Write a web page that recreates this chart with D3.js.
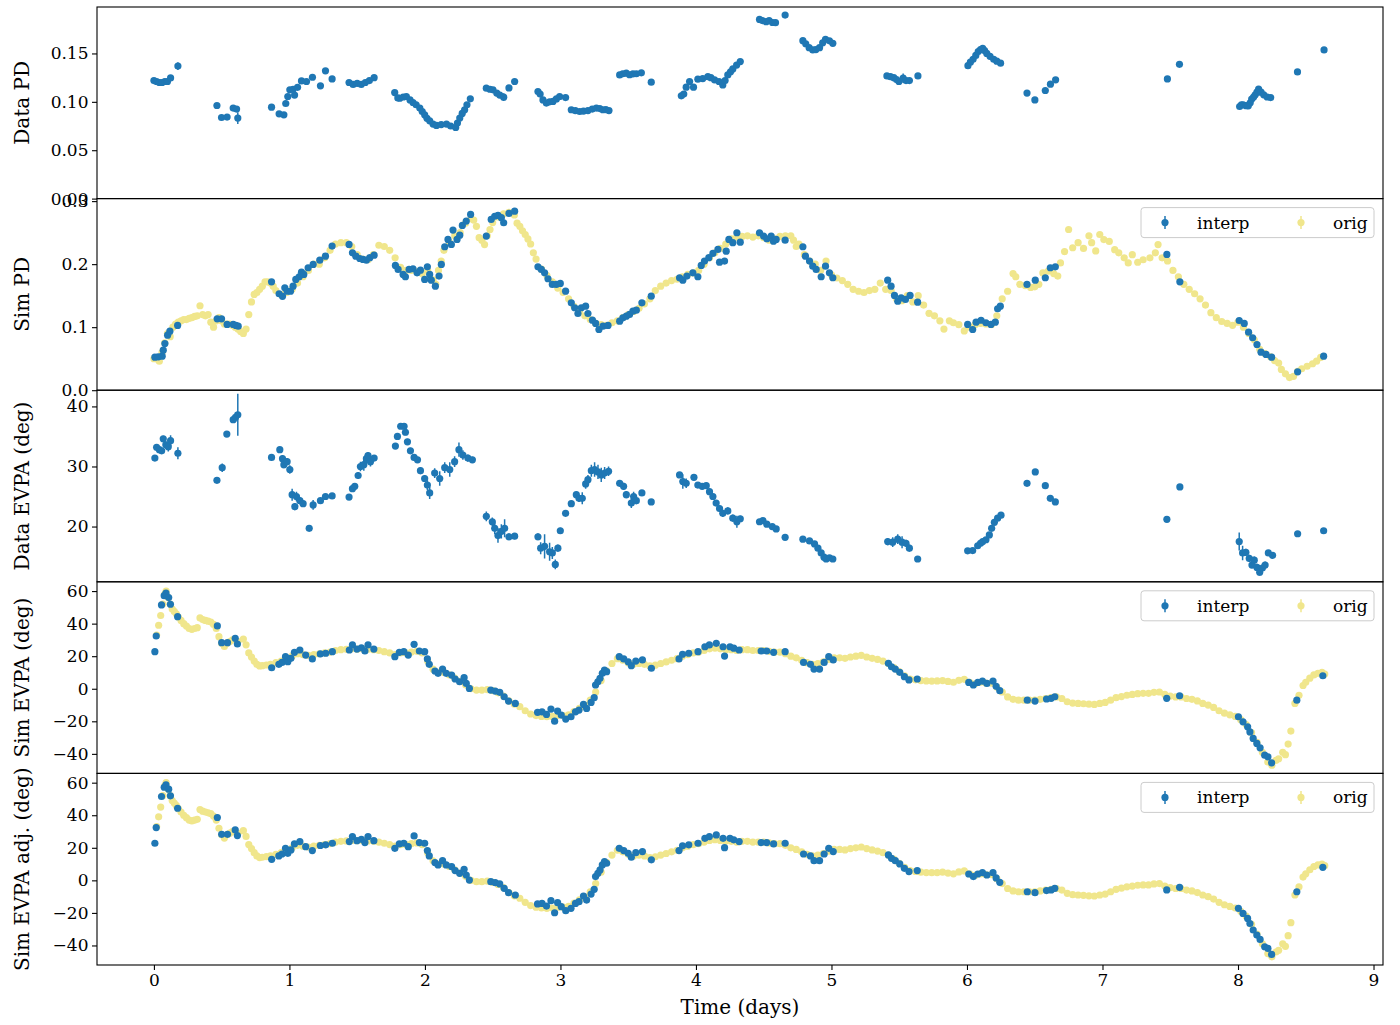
<!DOCTYPE html>
<html><head><meta charset="utf-8">
<script src="https://cdn.jsdelivr.net/npm/d3@7"></script>
<style>body{margin:0;background:#fff} svg{display:block}</style>
</head><body><svg id="chart" width="1400" height="1025"></svg>
<script>
// ---------------- DATA (time in days, value, optional error) ----------------
const dataPD = [
[0.0,0.122],[0.02,0.121],[0.04,0.120],[0.06,0.120],[0.08,0.121],[0.10,0.121],[0.123,0.1247],[0.177,0.137,0.004],
[0.465,0.0962],[0.499,0.0838],[0.54,0.0842],[0.585,0.0935],[0.61,0.0925],[0.619,0.0832,0.006],
[0.868,0.0945],[0.924,0.0876],[0.959,0.0866],[0.973,0.0983],[0.988,0.1055],[1.003,0.1124],[1.027,0.113],[1.038,0.107],[1.06,0.115],[1.089,0.1216],[1.126,0.121],[1.17,0.1254],[1.229,0.1165],[1.266,0.132],[1.315,0.1237],
[1.44,0.120],[1.47,0.118],[1.50,0.119],[1.53,0.118,0.002],[1.56,0.120],[1.59,0.122],[1.625,0.125],
[1.777,0.1096],[1.80,0.104],[1.814,0.1037],[1.84,0.105],[1.863,0.1055],[1.89,0.102],[1.912,0.0993],[1.935,0.097],[1.962,0.0935],[1.98,0.09],[1.998,0.0866],[2.015,0.083],[2.035,0.0804],[2.06,0.077],[2.085,0.0756],[2.12,0.0765],[2.159,0.077],[2.19,0.075],[2.227,0.0735],[2.24,0.078],[2.257,0.0832],[2.275,0.088],[2.293,0.0918],[2.31,0.097],[2.335,0.1031],
[2.453,0.1141],[2.48,0.113],[2.502,0.1124],[2.53,0.109],[2.552,0.107],[2.581,0.1048,0.004],[2.62,0.1144],[2.662,0.121],
[2.834,0.1106],[2.85,0.108],[2.871,0.102],[2.896,0.0987],[2.92,0.100],[2.945,0.1004],[2.97,0.103],[2.994,0.1055],[3.038,0.1044],
[3.08,0.0918],[3.11,0.091],[3.142,0.090],[3.17,0.0905],[3.203,0.091],[3.235,0.0925],[3.265,0.0935],[3.29,0.093],[3.313,0.0918],[3.335,0.092],[3.358,0.091],
[3.437,0.1278],[3.46,0.129],[3.486,0.1296],[3.51,0.128],[3.535,0.1289],[3.56,0.129],[3.597,0.130],[3.67,0.1203],
[3.892,0.1062],[3.91,0.108],[3.928,0.1151],[3.953,0.121],[3.982,0.1151],[4.014,0.1234],[4.05,0.124],[4.088,0.126],[4.11,0.125],[4.137,0.1227],[4.17,0.121],[4.198,0.1175],[4.215,0.122],[4.235,0.1278],[4.255,0.131],[4.272,0.134],[4.30,0.138],[4.327,0.1416],
[4.469,0.1852],[4.49,0.184],[4.518,0.1828],[4.54,0.184],[4.565,0.182],[4.587,0.1818],[4.658,0.1897],
[4.789,0.1632],[4.81,0.160],[4.835,0.156],[4.862,0.1536],[4.885,0.154],[4.912,0.156],[4.935,0.161],[4.956,0.1646],[4.985,0.163],[5.01,0.1605],
[5.409,0.1268],[5.435,0.126],[5.46,0.125],[5.48,0.123],[5.498,0.121],[5.529,0.1244,0.005],[5.55,0.122],[5.575,0.122],[5.638,0.1268],
[6.007,0.1374],[6.025,0.141],[6.045,0.144],[6.065,0.148],[6.083,0.1519],[6.1,0.154],[6.116,0.1553],[6.13,0.153],[6.146,0.150],[6.17,0.147],[6.197,0.144],[6.22,0.142],[6.248,0.140],
[6.443,0.109],[6.501,0.102],[6.578,0.1117],[6.616,0.1182],[6.654,0.1227],
[7.479,0.1237],[7.568,0.1388],
[8.012,0.0952,0.003],[8.025,0.097],[8.038,0.0969],[8.06,0.096],[8.076,0.0959],[8.09,0.099],[8.101,0.1028],[8.115,0.105],[8.127,0.1072],[8.14,0.110],[8.152,0.1131],[8.17,0.110],[8.19,0.1072],[8.215,0.105],[8.241,0.1044],
[8.439,0.1309],[8.635,0.1536]
];

const simPDOrig = [
[0.00,0.05],[0.02,0.05],[0.04,0.046],[0.06,0.06],[0.08,0.075],[0.10,0.09],[0.12,0.085],[0.14,0.1],[0.16,0.105],[0.18,0.108],[0.20,0.11],[0.22,0.112],[0.24,0.112],[0.26,0.114],[0.28,0.115],[0.30,0.117],[0.32,0.118],[0.34,0.134],[0.36,0.12],[0.38,0.118],[0.40,0.12],[0.42,0.108],[0.44,0.1],[0.46,0.11],[0.48,0.115],[0.50,0.11],[0.52,0.105],[0.54,0.105],[0.56,0.105],[0.58,0.103],[0.60,0.1],[0.62,0.097],[0.64,0.093],[0.66,0.09],[0.68,0.097],[0.70,0.12],[0.72,0.14],[0.74,0.152],[0.76,0.155],[0.78,0.16],[0.80,0.165],[0.82,0.172],[0.84,0.172],[0.86,0.17],[0.88,0.165],[0.90,0.158],[0.94,0.152],[0.98,0.155],
[1.02,0.16],[1.06,0.17],[1.10,0.18],[1.14,0.19],[1.18,0.2],[1.22,0.2],[1.26,0.21],[1.30,0.222],[1.34,0.232],[1.38,0.234],[1.42,0.234],[1.46,0.228],[1.50,0.215],[1.54,0.208],[1.58,0.207],[1.62,0.215],[1.66,0.23],[1.70,0.228],[1.74,0.222],[1.78,0.21],[1.82,0.195],[1.86,0.19],[1.90,0.19],[1.94,0.188],[1.98,0.185],
[2.02,0.19],[2.06,0.175],[2.08,0.168],[2.10,0.19],[2.12,0.205],[2.14,0.222],[2.18,0.235],[2.22,0.245],[2.26,0.25],[2.30,0.265],[2.34,0.272],[2.36,0.27],[2.38,0.26],[2.40,0.242],[2.42,0.238],[2.44,0.231],[2.46,0.245],[2.48,0.255],[2.50,0.266],[2.54,0.275],[2.58,0.28],[2.62,0.282],[2.66,0.278],[2.68,0.265],[2.70,0.26],[2.72,0.253],[2.74,0.247],[2.76,0.24],[2.78,0.232],[2.80,0.218],[2.82,0.208],[2.86,0.192],[2.90,0.182],[2.94,0.172],[2.98,0.162],
[3.02,0.155],[3.06,0.145],[3.10,0.133],[3.14,0.125],[3.18,0.118],[3.22,0.112],[3.26,0.106],[3.30,0.104],[3.34,0.103],[3.38,0.107],[3.42,0.11],[3.46,0.115],[3.50,0.12],[3.54,0.125],[3.58,0.13],[3.62,0.137],[3.66,0.145],[3.70,0.158],[3.74,0.165],[3.78,0.17],[3.82,0.174],[3.86,0.176],[3.90,0.18],[3.94,0.184],[3.98,0.186],
[4.02,0.19],[4.06,0.2],[4.10,0.21],[4.14,0.218],[4.18,0.225],[4.22,0.232],[4.26,0.24],[4.30,0.243],[4.34,0.244],[4.38,0.245],[4.42,0.243],[4.46,0.245],[4.50,0.242],[4.54,0.238],[4.58,0.24],[4.62,0.244],[4.66,0.245],[4.70,0.245],[4.72,0.238],[4.74,0.228],[4.76,0.232],[4.80,0.215],[4.84,0.205],[4.88,0.2],[4.92,0.19],[4.96,0.205],
[5.00,0.183],[5.04,0.178],[5.08,0.174],[5.12,0.168],[5.16,0.16],[5.20,0.157],[5.24,0.155],[5.28,0.158],[5.32,0.16],[5.36,0.17],[5.40,0.16],[5.44,0.158],[5.48,0.145],[5.52,0.142],[5.56,0.15],[5.60,0.14],[5.64,0.15],[5.68,0.135],[5.72,0.122],[5.76,0.118],[5.80,0.11],[5.83,0.097],[5.87,0.11],[5.90,0.107],[5.94,0.104],[5.98,0.094],
[6.02,0.1],[6.06,0.104],[6.10,0.106],[6.14,0.105],[6.18,0.104],[6.22,0.118],[6.26,0.145],[6.30,0.157],[6.34,0.185],[6.36,0.18],[6.39,0.168],[6.43,0.166],[6.47,0.163],[6.50,0.164],[6.53,0.168],[6.56,0.186],[6.60,0.189],[6.64,0.185],[6.67,0.181],[6.69,0.202],[6.72,0.22],[6.75,0.255],[6.78,0.226],[6.82,0.234],[6.86,0.225],[6.90,0.245],[6.92,0.234],[6.95,0.221],[6.98,0.247],
[7.01,0.239],[7.05,0.236],[7.09,0.223],[7.12,0.218],[7.16,0.21],[7.19,0.202],[7.22,0.215],[7.26,0.203],[7.30,0.207],[7.35,0.21],[7.39,0.218],[7.41,0.231],[7.44,0.21],[7.48,0.205],[7.52,0.19],[7.56,0.18],[7.60,0.168],[7.64,0.16],[7.68,0.153],[7.72,0.145],[7.76,0.135],[7.80,0.123],[7.84,0.115],[7.88,0.109],[7.92,0.106],[7.96,0.103],
[8.00,0.108],[8.04,0.1],[8.08,0.09],[8.12,0.08],[8.16,0.065],[8.20,0.058],[8.24,0.053],[8.27,0.047],[8.30,0.043],[8.32,0.033],[8.35,0.026],[8.38,0.02],[8.41,0.022],[8.44,0.03],[8.47,0.034],[8.51,0.038],[8.55,0.042],[8.58,0.046],[8.61,0.052]
];

const simPDInterp = [
[0.007,0.0524],[0.032,0.0529],[0.061,0.054],[0.069,0.0635],[0.081,0.074],[0.101,0.0873],[0.118,0.0937],[0.175,0.1027],
[0.467,0.1133],[0.499,0.1133],[0.54,0.1043],[0.585,0.1043],[0.605,0.1027],[0.622,0.1016],
[0.868,0.172],[0.924,0.153],[0.949,0.149],[0.966,0.1625],[0.983,0.157],[1.008,0.157],[1.027,0.165],[1.047,0.1757],[1.072,0.18],[1.089,0.1873],[1.106,0.1837],[1.138,0.1943],[1.175,0.1995],[1.224,0.2063],[1.266,0.2127],[1.315,0.2286],
[1.44,0.2313],[1.465,0.218],[1.49,0.2127],[1.519,0.209],[1.543,0.2075],[1.568,0.2063],[1.593,0.2102],[1.625,0.2143],
[1.782,0.198],[1.802,0.1916],[1.839,0.1837],[1.856,0.18],[1.883,0.1916],[1.912,0.1927],[1.942,0.1863],[1.967,0.1905],[1.998,0.1757],[2.018,0.1958],[2.035,0.1837],[2.047,0.1746],[2.077,0.165],[2.104,0.181],[2.121,0.1995],[2.146,0.2276],[2.17,0.2392],[2.195,0.2313],[2.207,0.254],[2.237,0.2392],[2.257,0.246],[2.276,0.2614],[2.305,0.2683],[2.337,0.2789],
[2.453,0.2445],[2.489,0.271],[2.515,0.276],[2.539,0.2773],[2.564,0.2737],[2.581,0.2657],[2.62,0.2805],[2.662,0.2841],
[2.834,0.1958],[2.859,0.1916],[2.883,0.1863],[2.908,0.1768],[2.94,0.1678],[2.969,0.1678],[2.999,0.1694],[3.038,0.1571],[3.08,0.1387],[3.105,0.1308],[3.129,0.1217],[3.154,0.1308],[3.186,0.1333],[3.203,0.1217],[3.236,0.1111],[3.26,0.1059],[3.284,0.0963],[3.314,0.1016],[3.351,0.1027],
[3.437,0.1095],[3.461,0.1149],[3.486,0.1175],[3.51,0.1202],[3.535,0.1254],[3.56,0.127],[3.601,0.1387],[3.67,0.1492],
[3.879,0.1784],[3.903,0.1746],[3.933,0.181],[3.977,0.1863],[4.014,0.18],[4.039,0.198],[4.063,0.2048],[4.095,0.2102],[4.125,0.217],[4.162,0.2233],[4.174,0.2032],[4.211,0.2048],[4.223,0.2206],[4.243,0.2392],[4.272,0.234],[4.302,0.2498],[4.327,0.2349],
[4.469,0.2498],[4.499,0.2445],[4.523,0.2403],[4.555,0.2445],[4.572,0.2365],[4.592,0.2392],[4.658,0.2381],
[4.789,0.2276],[4.808,0.2127],[4.838,0.2048],[4.862,0.1968],[4.887,0.1916],[4.924,0.18],[4.956,0.1968],[4.985,0.1863],[5.01,0.1784],
[5.415,0.1746],[5.44,0.165],[5.465,0.1503],[5.489,0.1413],[5.514,0.1466],[5.546,0.144],[5.58,0.1503],[5.636,0.1397],
[6.005,0.1043],[6.042,0.0963],[6.067,0.108],[6.104,0.111],[6.14,0.107],[6.177,0.1043],[6.209,0.108],[6.226,0.1292],[6.246,0.1333],
[6.443,0.1678],[6.504,0.1746],[6.578,0.1784],[6.615,0.1943],[6.652,0.1958],
[7.475,0.2154],[7.571,0.172],
[8.009,0.1106],[8.046,0.1059],[8.078,0.092],[8.108,0.0832],[8.14,0.0725],[8.17,0.0603],[8.207,0.0567],[8.248,0.0524],
[8.44,0.0292],[8.632,0.054]
];

const dataEVPA = [
[0.007,31.4,0.4],[0.02,33.2,0.4],[0.04,32.8,0.4],[0.057,32.6,0.5],[0.069,34.6,0.5],[0.088,33.6,0.6],[0.106,33.3,0.8],[0.123,34.3,0.9],[0.177,32.2,1],
[0.465,27.7,0.4],[0.504,29.8,0.7],[0.538,35.4,0.5],[0.585,37.8,0.5],[0.602,38.2,0.8],[0.619,38.6,3.5],
[0.868,31.5,0.4],[0.929,32.8,0.4],[0.949,31.3,0.6],[0.959,30.3,0.6],[0.983,30.8,0.6],[1.003,29.5,0.7],[1.02,25.3,1],[1.04,23.3,0.6],[1.052,25.0,0.8],[1.077,24.3,0.6],[1.101,23.8,0.5],[1.146,19.7,0.4],[1.175,23.6,0.8],[1.229,24.3,0.4],[1.266,25.0,0.4],[1.315,25.1,0.4],
[1.44,24.9,0.4],[1.465,26.3,0.4],[1.482,26.7,0.5],[1.507,28.5,0.6],[1.524,30.0,0.8],[1.549,30.3,1],[1.568,31.3,0.8],[1.58,31.8,0.6],[1.598,30.8,0.8],[1.625,31.4,0.5],
[1.782,33.4,0.4],[1.797,35.0,0.4],[1.821,36.7,0.4],[1.846,36.7,0.5],[1.856,35.7,0.5],[1.871,34.1,0.5],[1.893,32.6,0.5],[1.92,31.5,0.5],[1.945,31.1,0.5],[1.967,29.3,0.6],[1.998,28.0,0.6],[2.018,26.9,0.8],[2.035,25.6,1],[2.072,28.9,0.8],[2.109,28.0,1.2],[2.146,29.8,0.9],[2.183,29.5,1.2],[2.219,30.8,0.9],[2.251,32.8,1.2],[2.28,31.9,0.8],[2.317,31.4,0.6],[2.35,31.1,0.5],
[2.453,21.7,0.8],[2.497,20.8,0.7],[2.515,19.7,1],[2.539,18.5,1.2],[2.564,19.2,1.2],[2.588,19.7,1.5],[2.62,18.3,0.6],[2.662,18.4,0.5],
[2.834,18.3,0.6],[2.854,16.4,1],[2.883,16.7,2],[2.92,15.8,1.5],[2.94,15.6,1],[2.962,13.7,0.8],[2.981,16.4,0.6],[2.999,19.3,0.5],[3.038,22.2,0.5],[3.08,23.8,0.5],[3.117,25.3,0.5],[3.137,24.7,0.6],[3.161,24.7,1],[3.186,27.1,0.8],[3.203,27.8,0.8],[3.228,29.3,1],[3.252,29.5,1.2],[3.277,29.1,1.2],[3.301,28.6,1.2],[3.326,28.9,1],[3.355,29.2,0.8],
[3.437,27.2,0.5],[3.466,26.7,0.6],[3.486,25.3,0.6],[3.523,23.9,0.8],[3.54,25.0,0.8],[3.56,24.3,0.6],[3.601,25.6,0.5],[3.67,24.1,0.5],
[3.879,28.6,0.5],[3.903,27.5,1.2],[3.928,27.2,0.8],[3.985,28.2,0.5],[4.014,26.9,0.5],[4.046,26.7,0.5],[4.076,26.8,0.5],[4.1,25.8,0.5],[4.125,25.0,0.5],[4.149,23.9,0.5],[4.174,23.0,0.5],[4.198,22.2,0.6],[4.235,22.6,0.6],[4.272,21.4,0.6],[4.302,20.8,1],[4.327,21.3,0.5],
[4.469,20.8,0.4],[4.494,21.0,0.4],[4.523,20.4,0.4],[4.563,20.0,0.4],[4.592,19.6,0.4],[4.658,18.2,0.4],
[4.789,17.9,0.4],[4.838,17.6,0.4],[4.875,17.1,0.4],[4.9,16.4,0.4],[4.924,15.6,0.4],[4.945,14.9,0.4],[4.961,14.6,0.4],[4.985,14.8,0.4],[5.01,14.6,0.4],
[5.415,17.5,0.6],[5.452,17.4,0.8],[5.489,17.9,0.8],[5.521,17.4,1],[5.55,17.2,0.6],[5.575,16.4,0.6],[5.636,14.6,0.4],
[6.005,15.95,0.3],[6.042,16.0,0.3],[6.079,16.8,0.3],[6.1,17.2,0.3],[6.116,17.5,0.3],[6.14,17.8,0.3],[6.165,18.6,0.3],[6.182,19.7,0.3],[6.202,20.7,0.3],[6.226,21.4,0.3],[6.251,21.9,0.3],
[6.443,27.2,0.4],[6.504,29.1,0.5],[6.578,26.8,0.4],[6.615,24.7,0.4],[6.652,24.1,0.4],
[7.475,21.2,0.3],[7.571,26.6,0.4],
[8.009,17.5,1.5],[8.034,15.6,1.2],[8.058,15.7,0.6],[8.083,14.7,0.6],[8.103,13.6,0.6],[8.12,14.4,0.6],[8.14,13.2,0.6],[8.16,12.4,0.6],[8.18,13.1,0.6],[8.2,13.6,0.6],[8.224,15.6,0.5],[8.255,15.2,0.5],
[8.44,18.8,0.4],[8.632,19.3,0.4]
];

const simEVPAOrig = [
[0.02,33],[0.035,39],[0.05,45],[0.065,52],[0.08,58],[0.09,60],[0.105,56],[0.12,52],[0.135,49],[0.15,47.5],[0.165,46],[0.18,44],[0.2,42],[0.22,40],[0.24,38.5],[0.26,37],[0.28,36.5],[0.30,37],[0.32,37.5],[0.34,43.5],[0.36,42.5],[0.38,42],[0.40,41.5],[0.42,41],[0.44,39.5],[0.46,37],[0.48,32],[0.50,28],[0.52,26],[0.54,28],[0.56,29],[0.58,30],[0.62,29],[0.66,30.5],[0.68,27],[0.70,22],[0.72,19.5],[0.74,17],[0.76,15],[0.78,14],[0.80,14.2],[0.83,14.6],[0.86,15],[0.90,16],[0.94,17],[0.98,18.5],
[1.02,20],[1.06,21.5],[1.10,21],[1.14,20.5],[1.18,21],[1.22,21.5],[1.26,22],[1.30,22.5],[1.34,23.5],[1.38,24],[1.42,24.2],[1.46,24.5],[1.50,24.3],[1.54,24.5],[1.58,24.2],[1.62,24],[1.66,23.5],[1.70,22.8],[1.74,22],[1.78,21],[1.82,22],[1.86,22],[1.90,22.5],[1.94,23],[1.98,22],
[2.02,17],[2.06,12],[2.10,10],[2.14,10],[2.18,8.5],[2.22,6.5],[2.26,4.5],[2.30,2.5],[2.34,0],[2.38,-0.8],[2.42,-0.8],[2.46,-0.5],[2.50,-1.2],[2.54,-2.5],[2.58,-4.5],[2.62,-7.5],[2.66,-9.5],[2.70,-11],[2.74,-13.5],[2.78,-15.5],[2.82,-16.5],[2.86,-17],[2.90,-17.2],[2.94,-17],[2.98,-16.5],
[3.02,-16.5],[3.06,-16],[3.10,-14],[3.14,-12],[3.18,-10],[3.22,-7],[3.26,-2],[3.30,5],[3.34,11],[3.38,15.5],[3.42,18.5],[3.46,17.5],[3.50,16],[3.54,15],[3.58,15.5],[3.62,15],[3.66,14],[3.70,14.5],[3.74,15.5],[3.78,16.5],[3.82,17.5],[3.86,18.5],[3.90,20],[3.94,21],[3.98,22],
[4.02,22.5],[4.06,23.5],[4.10,24.5],[4.14,25],[4.18,24.5],[4.22,24],[4.26,24],[4.30,23.5],[4.34,24],[4.38,24],[4.42,23.5],[4.46,23.5],[4.50,23.5],[4.54,23],[4.58,22.5],[4.62,22.5],[4.66,21.5],[4.70,20],[4.74,19],[4.78,17.5],[4.82,16],[4.86,15],[4.90,15.5],[4.94,16.5],[4.98,18],
[5.02,19],[5.06,19],[5.10,18.7],[5.14,19.5],[5.18,20],[5.22,20.5],[5.26,19.5],[5.30,18.7],[5.34,18],[5.38,17],[5.42,15.5],[5.46,13],[5.50,10.5],[5.54,8],[5.58,6],[5.62,5.5],[5.66,5],[5.70,4.8],[5.74,4.7],[5.78,4.8],[5.82,5],[5.86,4.5],[5.90,4],[5.94,5.2],[5.98,5.8],
[6.02,4],[6.06,3],[6.10,4],[6.14,3.5],[6.18,3.5],[6.22,1],[6.26,-2],[6.30,-5],[6.34,-6.5],[6.38,-7],[6.42,-7],[6.46,-7],[6.50,-7],[6.54,-6.5],[6.58,-6],[6.62,-5.5],[6.66,-5],[6.70,-6],[6.74,-8],[6.78,-8.8],[6.82,-9],[6.86,-9.2],[6.90,-9.5],[6.94,-9.6],[6.98,-9],
[7.02,-8.4],[7.06,-7],[7.10,-5.5],[7.14,-4.8],[7.18,-4],[7.22,-3.5],[7.26,-3],[7.30,-2.8],[7.34,-2.8],[7.38,-2.2],[7.42,-2],[7.46,-3.5],[7.50,-4.5],[7.54,-5],[7.58,-5],[7.62,-6],[7.66,-6.5],[7.70,-7.5],[7.74,-9],[7.78,-10],[7.82,-11.5],[7.86,-13.5],[7.90,-15],[7.94,-16],[7.98,-17],
[8.02,-19],[8.06,-22],[8.10,-27],[8.14,-33],[8.18,-39],[8.22,-45],[8.25,-47],[8.28,-44],[8.30,-43],[8.33,-39],[8.35,-40.5],[8.37,-34],[8.39,-26],[8.42,-9],[8.45,-4],[8.48,2],[8.50,4],[8.53,6.5],[8.56,8.5],[8.59,9.5],[8.62,10],[8.64,9]
];

const simEVPAInterp = [
[0.007,22.8],[0.017,32.4],[0.056,51.5],[0.076,57.2],[0.089,58.7],[0.109,56.0],[0.122,51.9],[0.175,44.3],
[0.468,38.6],[0.5,28.3],[0.543,28.3],[0.6,31.0],[0.616,27.5],
[0.869,12.9],[0.922,15.0],[0.945,16.2],[0.971,19.7],[0.988,16.6],[1.011,18.7],[1.037,22.4],[1.077,23.8],[1.12,20.7],[1.169,18.3],[1.228,21.4],[1.268,21.8],[1.317,22.8],
[1.442,23.8],[1.465,26.9],[1.498,24.4],[1.531,25.2],[1.557,23.2],[1.58,26.9],[1.623,24.4],
[1.778,19.7],[1.811,22.4],[1.844,22.8],[1.877,20.7],[1.92,27.3],[1.959,23.2],[1.998,22.8],[2.018,18.3],[2.032,15.0],[2.074,10.9],[2.097,9.5],[2.13,12.1],[2.157,9.5],[2.197,8.4],[2.223,6.0],[2.256,4.3],[2.289,6.8],[2.305,3.3],[2.328,0.2],
[2.486,-0.8],[2.519,-1.4],[2.552,-2.2],[2.585,-4.9],[2.617,-7.6],[2.667,-9.0],
[2.831,-14.5],[2.864,-14.2],[2.897,-15.8],[2.93,-12.5],[2.957,-19.9],[2.979,-13.7],[3.006,-16.2],[3.039,-18.6],[3.078,-17.2],[3.111,-14.2],[3.137,-13.1],[3.17,-9.6],[3.193,-12.1],[3.226,-8.4],[3.249,-5.5],[3.259,2.3],[3.276,4.3],[3.292,6.4],[3.309,9.5],[3.325,11.5],[3.341,10.5],
[3.434,19.7],[3.467,18.3],[3.5,16.6],[3.523,14.2],[3.556,17.0],[3.605,17.7],[3.671,12.6],
[3.875,18.3],[3.901,21.2],[3.947,21.8],[4.015,22.8],[4.066,25.8],[4.099,26.9],[4.15,27.9],[4.2,25.8],[4.211,20.1],[4.251,25.8],[4.279,24.9],[4.319,23.8],
[4.481,23.2],[4.522,23.2],[4.573,22.4],[4.658,22.8],
[4.794,16.2],[4.845,15.0],[4.871,12.1],[4.912,12.1],[4.946,16.2],[4.98,19.7],[5.013,17.7],
[5.42,15.6],[5.443,13.5],[5.471,12.1],[5.504,10.1],[5.538,7.4],[5.572,5.4],[5.633,6.0],
[6.013,3.9],[6.047,2.3],[6.08,3.9],[6.114,4.7],[6.147,3.3],[6.192,4.7],[6.215,1.5],[6.242,-1.2],
[6.445,-7.0],[6.502,-7.6],[6.587,-6.3],[6.621,-5.9],[6.648,-4.9],
[7.474,-5.9],[7.569,-4.3],
[8.003,-17.2],[8.037,-20.3],[8.071,-23.4],[8.088,-26.5],[8.112,-30.5],[8.139,-33.6],[8.163,-36.3],[8.197,-40.8],[8.221,-41.8],[8.248,-45.5],
[8.434,-7.0],[8.626,8.0]
];

// Adjusted sim EVPA reads identical to the unadjusted series in the picture
const simEVPAAdjOrig = simEVPAOrig;
const simEVPAAdjInterp = simEVPAInterp;

const xTicks = [0,1,2,3,4,5,6,7,8,9];
const yTicksPD = [0,0.05,0.10,0.15];
const yTicksSimPD = [0,0.1,0.2,0.3];
const yTicksDataEVPA = [20,30,40];
const yTicksSimEVPA = [-40,-20,0,20,40,60];
const legendLabels = ["interp","orig"];

// ---------------- LAYOUT ----------------
const BLUE = "#1f77b4", KHAKI = "#f0e68c";
const FONT = "'DejaVu Serif', serif";
const L = 97, R = 1383, TOP = 7, PH = 191.6;
const svg = d3.select("#chart");
svg.append("rect").attr("width",1400).attr("height",1025).attr("fill","#fff");

const x = d3.scaleLinear().domain([-0.42, 9.07]).range([L, R]);

const panels = [
  {label:"Data PD", domain:[0,0.198], ticks:yTicksPD, fmt:d3.format(".2f"), orig:null, interp:dataPD, legend:false},
  {label:"Sim PD", domain:[0,0.304], ticks:yTicksSimPD, fmt:d3.format(".1f"), orig:simPDOrig, interp:simPDInterp, legend:true},
  {label:"Data EVPA (deg)", domain:[10.8,42.7], ticks:yTicksDataEVPA, fmt:d3.format("d"), orig:null, interp:dataEVPA, legend:false},
  {label:"Sim EVPA (deg)", domain:[-52,65.7], ticks:yTicksSimEVPA, fmt:d3.format("d"), orig:simEVPAOrig, interp:simEVPAInterp, legend:true},
  {label:"Sim EVPA adj. (deg)", domain:[-52,65.7], ticks:yTicksSimEVPA, fmt:d3.format("d"), orig:simEVPAAdjOrig, interp:simEVPAAdjInterp, legend:true}
];

const R_PT = 3.6;

panels.forEach((p, i) => {
  const top = TOP + i*PH, bottom = top + PH;
  const y = d3.scaleLinear().domain(p.domain).range([bottom, top]);
  const g = svg.append("g");
  const clipId = "clip"+i;
  svg.append("clipPath").attr("id", clipId).append("rect")
    .attr("x", L).attr("y", top).attr("width", R-L).attr("height", PH);
  const plot = g.append("g").attr("clip-path", `url(#${clipId})`);

  if (p.orig) {
    plot.append("g").selectAll("circle").data(p.orig).join("circle")
      .attr("cx", d => x(d[0])).attr("cy", d => y(d[1])).attr("r", R_PT)
      .attr("fill", KHAKI);
  }
  const withErr = p.interp.filter(d => d[2]);
  plot.append("g").selectAll("line").data(withErr).join("line")
    .attr("x1", d => x(d[0])).attr("x2", d => x(d[0]))
    .attr("y1", d => y(d[1]-d[2])).attr("y2", d => y(d[1]+d[2]))
    .attr("stroke", BLUE).attr("stroke-width", 1.5);
  plot.append("g").selectAll("circle").data(p.interp).join("circle")
    .attr("cx", d => x(d[0])).attr("cy", d => y(d[1])).attr("r", R_PT)
    .attr("fill", BLUE);

  // y axis
  const ax = g.append("g").attr("transform", `translate(${L},0)`)
    .call(d3.axisLeft(y).tickValues(p.ticks).tickFormat(p.fmt).tickSize(5).tickPadding(3.5));
  ax.select(".domain").remove();
  ax.attr("font-family", FONT).attr("font-size", 17);
  ax.selectAll("line").attr("stroke", "#000").attr("stroke-width", 1.1);
  ax.selectAll("text").attr("fill", "#000");

  // frame
  g.append("rect").attr("x", L).attr("y", top).attr("width", R-L).attr("height", PH)
    .attr("fill", "none").attr("stroke", "#000").attr("stroke-width", 1.1);

  // y label
  g.append("text").attr("transform", `translate(22,${top+PH/2}) rotate(-90)`)
    .attr("text-anchor", "middle").attr("dominant-baseline", "central")
    .attr("font-family", FONT).attr("font-size", 20).attr("fill", "#000").text(p.label);

  if (p.legend) {
    const lg = g.append("g").attr("transform", `translate(1141,${top+9})`);
    lg.append("rect").attr("width", 233).attr("height", 30).attr("rx", 3)
      .attr("fill", "#fff").attr("fill-opacity", 0.8).attr("stroke", "#cccccc").attr("stroke-width", 1);
    const cols = [BLUE, KHAKI];
    const mx = [24, 160], tx = [56, 192];
    legendLabels.forEach((lab, k) => {
      lg.append("line").attr("x1", mx[k]).attr("x2", mx[k]).attr("y1", 15-6.5).attr("y2", 15+6.5)
        .attr("stroke", cols[k]).attr("stroke-width", 1.5);
      lg.append("circle").attr("cx", mx[k]).attr("cy", 15).attr("r", R_PT).attr("fill", cols[k]);
      lg.append("text").attr("x", tx[k]).attr("y", 15).attr("dominant-baseline", "central")
        .attr("font-family", FONT).attr("font-size", 17).attr("fill", "#000").text(lab);
    });
  }

  if (i === panels.length - 1) {
    const xa = g.append("g").attr("transform", `translate(0,${bottom})`)
      .call(d3.axisBottom(x).tickValues(xTicks).tickFormat(d3.format("d")).tickSize(5).tickPadding(3.5));
    xa.select(".domain").remove();
    xa.attr("font-family", FONT).attr("font-size", 17);
    xa.selectAll("line").attr("stroke", "#000").attr("stroke-width", 1.1);
    xa.selectAll("text").attr("fill", "#000");
    g.append("text").attr("x", (L+R)/2).attr("y", 1014).attr("text-anchor", "middle")
      .attr("font-family", FONT).attr("font-size", 20).attr("fill", "#000").text("Time (days)");
  }
});
</script></body></html>
